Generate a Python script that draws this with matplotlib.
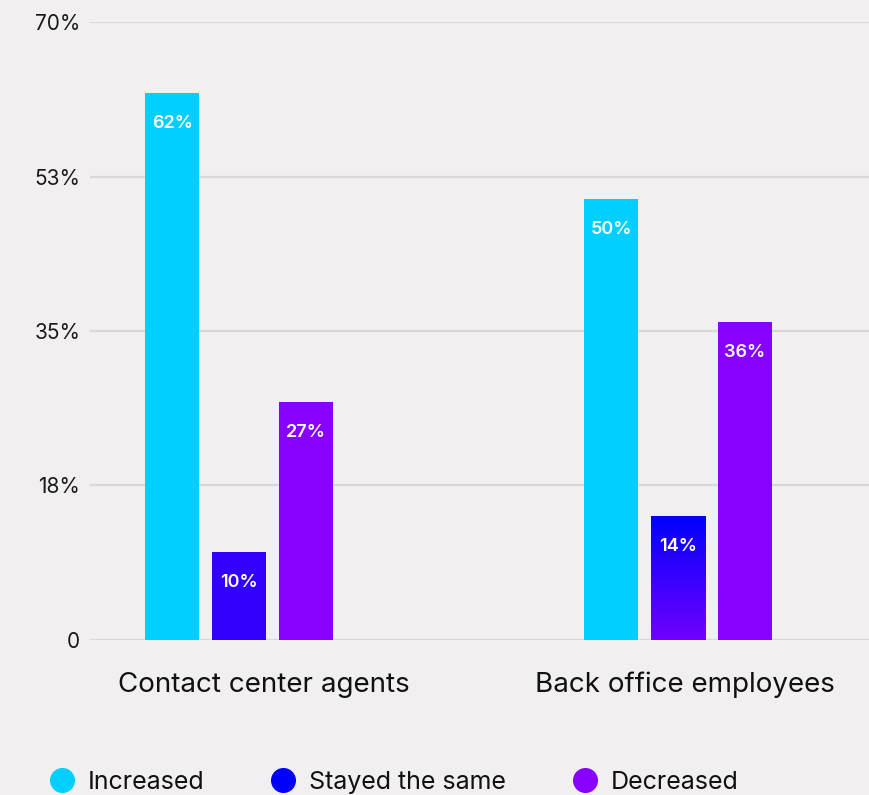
import numpy as np
import matplotlib.pyplot as plt
from matplotlib.colors import LinearSegmentedColormap

plt.rcParams['font.family'] = ['Inter', 'DejaVu Sans']

# data
groups = ['Contact center agents', 'Back office employees']
series = ['Increased', 'Stayed the same', 'Decreased']
increased = [62, 50]
stayed = [10, 14]
decreased = [27, 36]
yticks = [0, 17.5, 35, 52.5, 70]
ytick_labels = ['0', '18%', '35%', '53%', '70%']

bg = '#f1eff0'
cyan = '#00cfff'
blue = '#3300ff'
purple = '#8800ff'

fig = plt.figure(figsize=(8.69, 7.95), dpi=100, facecolor=bg)
ax = fig.add_axes([0.1036, 0.195, 0.8964, 0.7773], facecolor=bg)

x = np.arange(len(groups))
w = 0.123
offsets = [-0.152, 0.0, 0.152]
values = [increased, stayed, decreased]
colors = [cyan, blue, purple]

bars_all = []
for vals, off, col in zip(values, offsets, colors):
    bars = ax.bar(x + off, vals, width=w, color=col, zorder=3)
    bars_all.append(bars)
    for b, v in zip(bars, vals):
        ax.annotate(f'{v}%', (b.get_x() + b.get_width() / 2, v), xytext=(0, -22),
                    textcoords='offset points', ha='center', va='center',
                    color='white', fontsize=13, fontweight='semibold', zorder=5)

# the second "stayed the same" bar is drawn with a blue-to-violet gradient
grad = LinearSegmentedColormap.from_list('bv', ['#7000ff', '#0000ff'])
b = bars_all[1][1]
b.set_facecolor('none')
img = ax.imshow(np.linspace(0, 1, 256).reshape(-1, 1), cmap=grad, aspect='auto',
                origin='lower', extent=[b.get_x(), b.get_x() + b.get_width(), 0, b.get_height()],
                zorder=3)
img.set_clip_path(b)

ax.set_xlim(-0.339, 1.435)
ax.set_ylim(0, 70)
ax.set_yticks(yticks)
ax.set_yticklabels(ytick_labels)
ax.grid(axis='y', color='#d9d7d8', linewidth=1.6, zorder=0)
ax.tick_params(axis='y', length=0, pad=7, labelsize=15, labelcolor='#1a1a1a')
ax.tick_params(axis='x', length=0, pad=23, labelsize=20, labelcolor='#111111')
ax.set_xticks([0.058, 1.016])
ax.set_xticklabels(groups)
for s in ax.spines.values():
    s.set_visible(False)

# legend along the bottom edge
handles = [plt.Line2D([], [], marker='o', linestyle='none', markersize=17,
                      markerfacecolor=c, markeredgecolor=c) for c in [cyan, '#0000ff', purple]]
fig.legend(handles, series, loc='lower left', bbox_to_anchor=(0.0165, -0.027), ncol=3,
           frameon=False, fontsize=18, handletextpad=0.05, columnspacing=2.14,
           labelcolor='#111111')

fig.savefig('out.png', dpi=100, facecolor=bg)
